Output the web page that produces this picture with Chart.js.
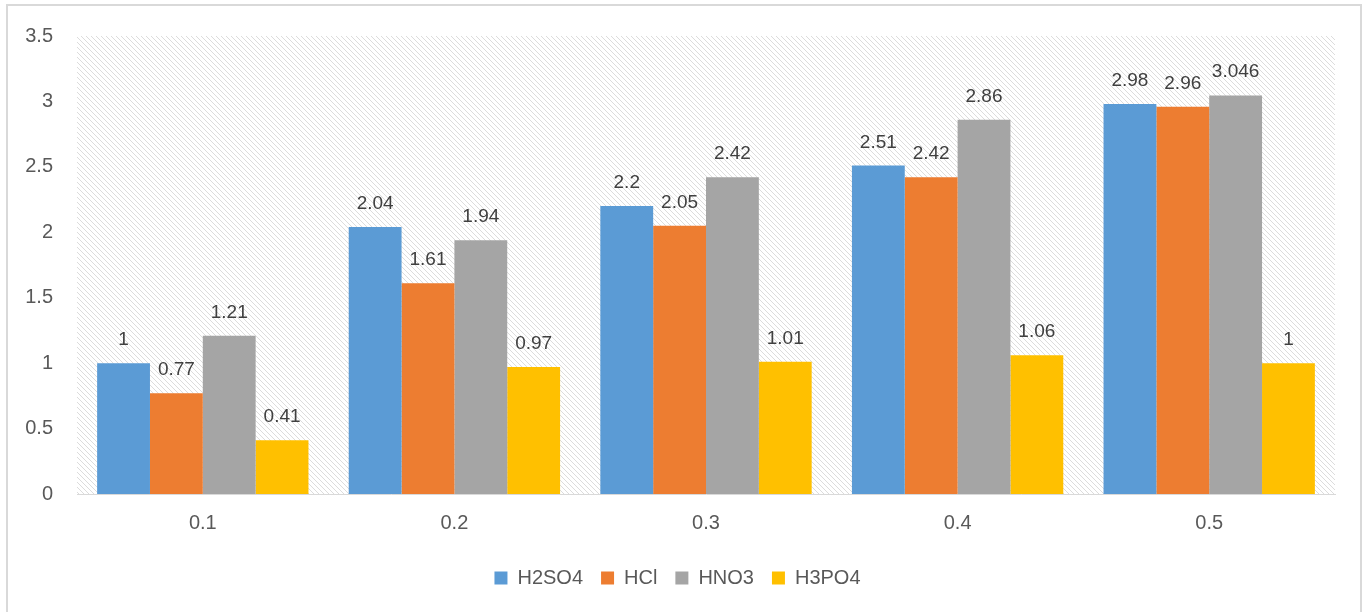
<!DOCTYPE html>
<html>
<head>
<meta charset="utf-8">
<script src="https://cdn.jsdelivr.net/npm/chart.js@4"></script>
<style>
  html, body { margin: 0; padding: 0; background: #fff; }
  #wrap { position: relative; width: 1372px; height: 612px; }
  #frame { position: absolute; left: 6px; top: 4px; width: 1356px; height: 620px;
           border: 2px solid #d9d9d9; box-sizing: border-box; }
  canvas { position: absolute; left: 0; top: 0; }
</style>
</head>
<body>
<div id="wrap">
  <div id="frame"></div>
  <canvas id="chart" width="1372" height="612"></canvas>
</div>
<script>
// categories (x axis) and series values
const categories = ['0.1', '0.2', '0.3', '0.4', '0.5'];
const seriesNames = ['H2SO4', 'HCl', 'HNO3', 'H3PO4'];
const h2so4 = [1, 2.04, 2.2, 2.51, 2.98];
const hcl = [0.77, 1.61, 2.05, 2.42, 2.96];
const hno3 = [1.21, 1.94, 2.42, 2.86, 3.046];
const h3po4 = [0.41, 0.97, 1.01, 1.06, 1];
const yTicks = [0, 0.5, 1, 1.5, 2, 2.5, 3, 3.5];

const colors = ['#5B9BD5', '#ED7D31', '#A5A5A5', '#FFC000'];
const FONT = "'Liberation Sans', Arial, sans-serif";

// diagonal hatch for the plot area
function makeHatch() {
    const size = 5;
    const c = document.createElement('canvas');
    c.width = size; c.height = size;
    const g = c.getContext('2d');
    const img = g.createImageData(size, size);
    for (let y = 0; y < size; y++) {
        for (let x = 0; x < size; x++) {
            const i = (y * size + x) * 4;
            const v = ((x - y + size) % size === 0) ? 220 : 255;
            img.data[i] = v; img.data[i + 1] = v; img.data[i + 2] = v; img.data[i + 3] = 255;
        }
    }
    g.putImageData(img, 0, 0);
    return c;
}

const hatchPlugin = {
    id: 'hatch',
    beforeDraw(chart) {
        const { ctx, chartArea: a } = chart;
        ctx.save();
        ctx.fillStyle = ctx.createPattern(makeHatch(), 'repeat');
        ctx.fillRect(a.left, a.top, a.right - a.left, a.bottom - a.top);
        ctx.restore();
    }
};

const valueLabels = {
    id: 'valueLabels',
    afterDatasetsDraw(chart) {
        const ctx = chart.ctx;
        ctx.save();
        ctx.font = '19px ' + FONT;
        ctx.fillStyle = '#404040';
        ctx.textAlign = 'center';
        ctx.textBaseline = 'alphabetic';
        chart.data.datasets.forEach((ds, di) => {
            chart.getDatasetMeta(di).data.forEach((bar, i) => {
                ctx.fillText(String(ds.data[i]), bar.x, bar.y - 18);
            });
        });
        ctx.restore();
    }
};

const ctx = document.getElementById('chart').getContext('2d');
new Chart(ctx, {
    type: 'bar',
    data: {
        labels: categories,
        datasets: [h2so4, hcl, hno3, h3po4].map((d, i) => ({
            label: seriesNames[i],
            data: d,
            backgroundColor: colors[i],
            borderWidth: 0,
            categoryPercentage: 0.84,
            barPercentage: 1.0
        }))
    },
    options: {
        responsive: false,
        animation: false,
        layout: { padding: { left: 20, right: 37, top: 36, bottom: 14 } },
        plugins: {
            legend: {
                position: 'bottom',
                labels: {
                    boxWidth: 13,
                    boxHeight: 13,
                    padding: 18,
                    color: '#595959',
                    font: { family: FONT, size: 20 }
                }
            },
            tooltip: { enabled: false }
        },
        scales: {
            x: {
                grid: { display: false, drawTicks: false },
                border: { display: true, color: '#d9d9d9', width: 1 },
                ticks: { color: '#595959', padding: 17, font: { family: FONT, size: 20 } },
                afterFit(scale) { scale.height = 56; }
            },
            y: {
                min: 0,
                max: 3.5,
                afterBuildTicks(scale) { scale.ticks = yTicks.map(v => ({ value: v })); },
                grid: { display: false, drawTicks: false },
                border: { display: false },
                ticks: {
                    color: '#595959',
                    padding: 24,
                    font: { family: FONT, size: 20 },
                    callback: (v) => String(v)
                },
                afterFit(scale) { scale.width = 57; }
            }
        }
    },
    plugins: [hatchPlugin, valueLabels]
});
</script>
</body>
</html>
